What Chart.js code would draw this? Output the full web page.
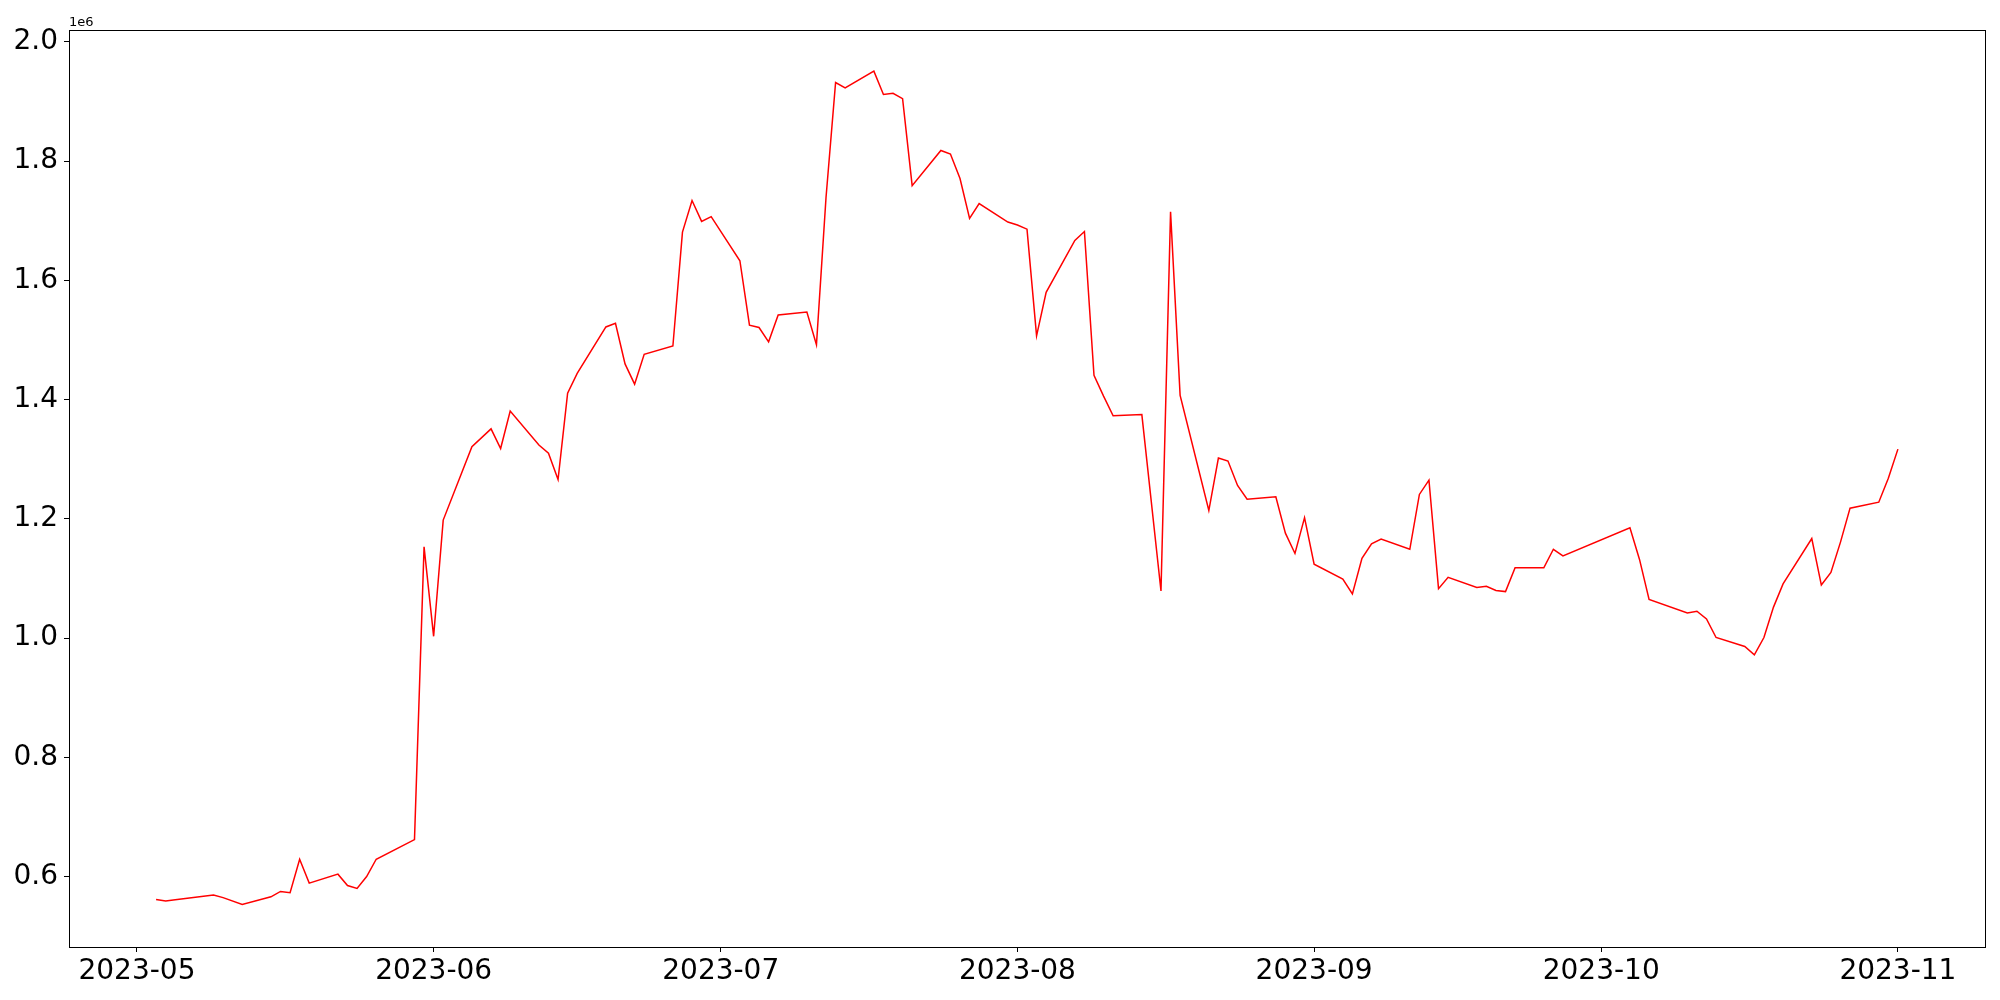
<!DOCTYPE html>
<html>
<head>
<meta charset="utf-8">
<script src="https://cdn.jsdelivr.net/npm/chart.js@4.4.0/dist/chart.umd.min.js"></script>
<style>
  html, body { margin: 0; padding: 0; background: #fff; }
  #wrap { width: 2000px; height: 1000px; }
</style>
</head>
<body>
<div id="wrap"><canvas id="chart" width="2000" height="1000"></canvas></div>
<script>
// dates (trading days) and values
const dates = [
  "2023-05-03", "2023-05-04", "2023-05-05", "2023-05-09", "2023-05-10", "2023-05-12",
  "2023-05-15", "2023-05-16", "2023-05-17", "2023-05-18", "2023-05-19",
  "2023-05-22", "2023-05-23", "2023-05-24", "2023-05-25", "2023-05-26",
  "2023-05-30", "2023-05-31", "2023-06-01", "2023-06-02",
  "2023-06-05", "2023-06-07", "2023-06-08", "2023-06-09",
  "2023-06-12", "2023-06-13", "2023-06-14", "2023-06-15", "2023-06-16",
  "2023-06-19", "2023-06-20", "2023-06-21", "2023-06-22", "2023-06-23",
  "2023-06-26", "2023-06-27", "2023-06-28", "2023-06-29", "2023-06-30",
  "2023-07-03", "2023-07-04", "2023-07-05", "2023-07-06", "2023-07-07",
  "2023-07-10", "2023-07-11", "2023-07-12", "2023-07-13", "2023-07-14",
  "2023-07-17", "2023-07-18", "2023-07-19", "2023-07-20", "2023-07-21",
  "2023-07-24", "2023-07-25", "2023-07-26", "2023-07-27", "2023-07-28",
  "2023-07-31", "2023-08-01", "2023-08-02", "2023-08-03", "2023-08-04",
  "2023-08-07", "2023-08-08", "2023-08-09", "2023-08-10", "2023-08-11",
  "2023-08-14", "2023-08-16", "2023-08-17", "2023-08-18",
  "2023-08-21", "2023-08-22", "2023-08-23", "2023-08-24", "2023-08-25",
  "2023-08-28", "2023-08-29", "2023-08-30", "2023-08-31", "2023-09-01",
  "2023-09-04", "2023-09-05", "2023-09-06", "2023-09-07", "2023-09-08",
  "2023-09-11", "2023-09-12", "2023-09-13", "2023-09-14", "2023-09-15",
  "2023-09-18", "2023-09-19", "2023-09-20", "2023-09-21", "2023-09-22",
  "2023-09-25", "2023-09-26", "2023-09-27",
  "2023-10-04", "2023-10-05", "2023-10-06",
  "2023-10-10", "2023-10-11", "2023-10-12", "2023-10-13",
  "2023-10-16", "2023-10-17", "2023-10-18", "2023-10-19", "2023-10-20",
  "2023-10-23", "2023-10-24", "2023-10-25", "2023-10-26", "2023-10-27",
  "2023-10-30", "2023-10-31", "2023-11-01"
];

const values = [
  561500, 559000, 561000, 569000, 564600, 553000,
  566000, 575000, 573000, 629000, 589000,
  604000, 585000, 580000, 600000, 629000,
  662000, 1153000, 1003000, 1198000,
  1321000, 1351000, 1318000, 1381000,
  1324000, 1310000, 1266000, 1411000, 1444000,
  1522000, 1528000, 1460000, 1426000, 1476000,
  1490000, 1681000, 1734000, 1699000, 1707000,
  1633000, 1525000, 1521000, 1497000, 1542000,
  1547000, 1492000, 1739000, 1932000, 1923000,
  1951000, 1912000, 1914000, 1905000, 1759000,
  1818000, 1812000, 1771000, 1704000, 1729000,
  1698000, 1693000, 1686000, 1507000, 1580000,
  1667000, 1682000, 1441000, 1406000, 1373000,
  1375000, 1079000, 1715000, 1407000,
  1214000, 1302000, 1297000, 1256000, 1233000,
  1237000, 1176000, 1142000, 1202000, 1124000,
  1099000, 1074000, 1134000, 1158000, 1166000,
  1149000, 1241000, 1265000, 1083000, 1102000,
  1085000, 1087000, 1080000, 1078000, 1118000,
  1118000, 1149000, 1138000,
  1185000, 1132000, 1065000,
  1042000, 1045000, 1032000, 1001000,
  986000, 972000, 1001000, 1052000, 1091000,
  1167000, 1089000, 1110000, 1161000, 1218000,
  1228000, 1268000, 1317000
];

const monthTicks = ["2023-05", "2023-06", "2023-07", "2023-08", "2023-09", "2023-10", "2023-11"];
const yTicks = [600000, 800000, 1000000, 1200000, 1400000, 1600000, 1800000, 2000000];

const DAY = 86400000;
const toMs = (s) => {
  const p = s.split("-").map(Number);
  return Date.UTC(p[0], p[1] - 1, p[2] || 1);
};

const points = dates.map((d, i) => ({ x: toMs(d), y: values[i] }));
const xMin = points[0].x - 9.1 * DAY;
const xMax = points[points.length - 1].x + 9.1 * DAY;

const FONT = "'DejaVu Sans', sans-serif";

// black frame around the plot and the "1e6" offset text
const framePlugin = {
  id: "frame",
  afterDraw(chart) {
    const { ctx, chartArea: a } = chart;
    ctx.save();
    ctx.strokeStyle = "#000";
    ctx.lineWidth = 1;
    ctx.strokeRect(Math.round(a.left) + 0.5, Math.round(a.top) + 0.5,
      Math.round(a.right - a.left), Math.round(a.bottom - a.top));
    ctx.fillStyle = "#000";
    ctx.font = "13px " + FONT;
    ctx.textAlign = "left";
    ctx.textBaseline = "alphabetic";
    ctx.fillText("1e6", a.left, a.top - 4);
    ctx.restore();
  },
};

new Chart(document.getElementById("chart"), {
  type: "line",
  data: {
    datasets: [
      {
        data: points,
        borderColor: "#ff0000",
        borderWidth: 1.5,
        pointRadius: 0,
        tension: 0,
        fill: false,
      },
    ],
  },
  options: {
    responsive: false,
    animation: false,
    devicePixelRatio: 1,
    layout: { padding: { top: 30, right: 15, left: 0, bottom: 0 } },
    plugins: {
      legend: { display: false },
      tooltip: { enabled: false },
    },
    scales: {
      x: {
        type: "linear",
        min: xMin,
        max: xMax,
        afterBuildTicks: (scale) => {
          scale.ticks = monthTicks.map((m) => ({ value: toMs(m) }));
        },
        afterFit: (scale) => {
          scale.height = 53;
        },
        grid: {
          drawOnChartArea: false,
          drawTicks: true,
          tickLength: 5,
          tickColor: "#000",
          tickWidth: 1,
        },
        border: { display: false },
        ticks: {
          autoSkip: false,
          maxRotation: 0,
          padding: 3,
          color: "#000",
          font: { family: FONT, size: 28 },
          callback: (v) => {
            const d = new Date(v);
            return d.getUTCFullYear() + "-" + String(d.getUTCMonth() + 1).padStart(2, "0");
          },
        },
      },
      y: {
        type: "linear",
        min: 481800,
        max: 2020100,
        afterBuildTicks: (scale) => {
          scale.ticks = yTicks.map((v) => ({ value: v }));
        },
        afterFit: (scale) => {
          scale.width = 69;
        },
        grid: {
          drawOnChartArea: false,
          drawTicks: true,
          tickLength: 5,
          tickColor: "#000",
          tickWidth: 1,
        },
        border: { display: false },
        ticks: {
          autoSkip: false,
          padding: 6,
          color: "#000",
          font: { family: FONT, size: 28 },
          callback: (v) => (v / 1e6).toFixed(1),
        },
      },
    },
  },
  plugins: [framePlugin],
});
</script>
</body>
</html>
